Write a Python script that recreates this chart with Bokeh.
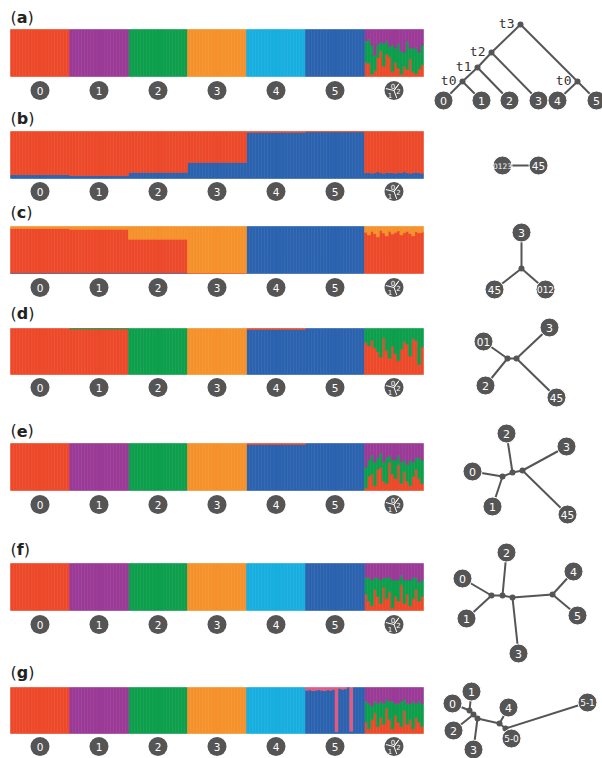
import numpy as np
from bokeh.plotting import figure
from bokeh.models import Range1d, ColumnDataSource
from bokeh.core.properties import value
from bokeh.embed import file_html
from bokeh.resources import INLINE

# ---------------- colours ----------------
RED = "#EC4A2A"
PURPLE = "#9B3B97"
GREEN = "#0E9F4D"
ORANGE = "#F5922C"
CYAN = "#18AEDF"
BLUE = "#2C63AF"
PINK = "#E05A80"
GREY = "#555555"

# ---------------- data ----------------
GROUP_LABELS = ["0", "1", "2", "3", "4", "5"]
N = 20  # individuals per population

A_RED = [0.30, 0.28, 0.05, 0.12, 0.40, 0.55, 0.22, 0.48, 0.42, 0.10, 0.30, 0.18, 0.05, 0.22, 0.15, 0.38, 0.10, 0.06, 0.16, 0.25]
A_GREEN = [0.45, 0.50, 0.62, 0.33, 0.28, 0.18, 0.48, 0.28, 0.22, 0.58, 0.30, 0.52, 0.48, 0.30, 0.60, 0.22, 0.50, 0.55, 0.36, 0.42]

B_BLUE = [0.12, 0.13, 0.11, 0.12, 0.14, 0.12, 0.11, 0.13, 0.12, 0.12, 0.11, 0.13, 0.12, 0.14, 0.12, 0.11, 0.12, 0.13, 0.12, 0.11]

C_ORANGE = [0.12, 0.18, 0.10, 0.15, 0.22, 0.08, 0.14, 0.20, 0.10, 0.16, 0.12, 0.09, 0.18, 0.13, 0.10, 0.15, 0.20, 0.11, 0.14, 0.12]

D_RED = [0.70, 0.62, 0.75, 0.58, 0.50, 0.38, 0.80, 0.52, 0.35, 0.62, 0.45, 0.30, 0.55, 0.72, 0.66, 0.40, 0.78, 0.74, 0.22, 0.60]

E_RED = [0.05, 0.30, 0.35, 0.10, 0.45, 0.50, 0.20, 0.15, 0.60, 0.35, 0.25, 0.55, 0.15, 0.40, 0.20, 0.10, 0.30, 0.45, 0.25, 0.15]
E_GREEN = [0.45, 0.35, 0.40, 0.50, 0.25, 0.30, 0.40, 0.55, 0.15, 0.30, 0.40, 0.20, 0.45, 0.25, 0.35, 0.55, 0.30, 0.25, 0.45, 0.50]

F_RED = [0.35, 0.20, 0.10, 0.45, 0.30, 0.15, 0.50, 0.25, 0.40, 0.05, 0.30, 0.20, 0.55, 0.15, 0.35, 0.10, 0.25, 0.45, 0.20, 0.30]
F_GREEN = [0.35, 0.50, 0.55, 0.25, 0.40, 0.50, 0.20, 0.45, 0.30, 0.60, 0.35, 0.45, 0.20, 0.50, 0.30, 0.55, 0.45, 0.25, 0.40, 0.35]

G_RED = [0.25, 0.10, 0.30, 0.45, 0.15, 0.35, 0.20, 0.55, 0.30, 0.10, 0.40, 0.25, 0.15, 0.50, 0.20, 0.30, 0.10, 0.35, 0.25, 0.15]
G_GREEN = [0.45, 0.55, 0.30, 0.25, 0.50, 0.35, 0.45, 0.20, 0.40, 0.60, 0.25, 0.40, 0.55, 0.25, 0.45, 0.35, 0.60, 0.30, 0.45, 0.50]
G5_PINK = [0.06, 0.05, 0.07, 0.06, 0.05, 0.06, 0.07, 0.05, 0.06, 0.04, 0.96, 0.02, 0.04, 0.03, 0.00, 0.95, 0.00, 0.00, 0.00, 0.00]

PANELS = [
    dict(letter="a", order=[RED, GREEN, PURPLE, ORANGE, CYAN, BLUE],
         groups=[{RED: 1}, {PURPLE: 1}, {GREEN: 1}, {ORANGE: 1}, {CYAN: 1}, {BLUE: 1}],
         admix={RED: A_RED, GREEN: A_GREEN}, rest=PURPLE),
    dict(letter="b", order=[BLUE, RED],
         groups=[{BLUE: 0.08, RED: 0.92}, {BLUE: 0.06, RED: 0.94}, {BLUE: 0.13, RED: 0.87},
                 {BLUE: 0.34, RED: 0.66}, {BLUE: 0.98, RED: 0.02}, {BLUE: 0.99, RED: 0.01}],
         admix={BLUE: B_BLUE}, rest=RED),
    dict(letter="c", order=[BLUE, RED, ORANGE],
         groups=[{BLUE: 0.01, RED: 0.95, ORANGE: 0.04}, {BLUE: 0.01, RED: 0.93, ORANGE: 0.06},
                 {BLUE: 0.01, RED: 0.72, ORANGE: 0.27}, {RED: 0.01, ORANGE: 0.99},
                 {BLUE: 1}, {BLUE: 1}],
         admix={ORANGE: C_ORANGE}, rest=RED),
    dict(letter="d", order=[BLUE, RED, GREEN, ORANGE],
         groups=[{RED: 1}, {RED: 0.99, GREEN: 0.01}, {GREEN: 1}, {ORANGE: 1},
                 {BLUE: 0.98, RED: 0.02}, {BLUE: 1}],
         admix={RED: D_RED}, rest=GREEN),
    dict(letter="e", order=[BLUE, RED, GREEN, PURPLE, ORANGE],
         groups=[{RED: 1}, {PURPLE: 1}, {GREEN: 1}, {ORANGE: 1},
                 {BLUE: 0.98, RED: 0.02}, {BLUE: 1}],
         admix={RED: E_RED, GREEN: E_GREEN}, rest=PURPLE),
    dict(letter="f", order=[RED, GREEN, PURPLE, ORANGE, CYAN, BLUE],
         groups=[{RED: 1}, {PURPLE: 1}, {GREEN: 1}, {ORANGE: 1}, {CYAN: 1}, {BLUE: 1}],
         admix={RED: F_RED, GREEN: F_GREEN}, rest=PURPLE),
    dict(letter="g", order=[RED, GREEN, PURPLE, ORANGE, CYAN, BLUE, PINK],
         groups=[{RED: 1}, {PURPLE: 1}, {GREEN: 1}, {ORANGE: 1}, {CYAN: 1}, {BLUE: 1}],
         admix={RED: G_RED, GREEN: G_GREEN}, rest=PURPLE,
         overrides={5: ({PINK: G5_PINK}, BLUE)}),
]

# trees: node names, positions (page layout), edges
TREES = [
    dict(names=["t3", "t2", "t1", "t0a", "t0b", "0", "1", "2", "3", "4", "5"],
         x=[520, 491, 477, 462, 577, 443, 481, 509, 538, 557, 596],
         y=[24, 52, 67, 81, 81, 100, 100, 100, 100, 100, 100],
         edges=[("t3", "t2"), ("t3", "t0b"), ("t2", "t1"), ("t2", "3"), ("t1", "t0a"), ("t1", "2"),
                ("t0a", "0"), ("t0a", "1"), ("t0b", "4"), ("t0b", "5")],
         leaves=["0", "1", "2", "3", "4", "5"],
         times={"t3": "t3", "t2": "t2", "t1": "t1", "t0a": "t0", "t0b": "t0"}),
    dict(names=["0123", "45"], x=[502, 538], y=[165, 165],
         edges=[("0123", "45")], leaves=["0123", "45"]),
    dict(names=["3", "n", "45", "012"], x=[521, 521, 494, 545], y=[232, 268, 289, 289],
         edges=[("n", "3"), ("n", "45"), ("n", "012")], leaves=["3", "45", "012"]),
    dict(names=["3", "01", "n1", "n2", "2", "45"], x=[549, 483, 507, 516, 485, 556],
         y=[327, 341, 358, 358, 385, 397],
         edges=[("01", "n1"), ("2", "n1"), ("n1", "n2"), ("n2", "3"), ("n2", "45")],
         leaves=["3", "01", "2", "45"]),
    dict(names=["2", "3", "0", "1", "45", "n1", "n2", "n3"],
         x=[506, 566, 472, 492, 567, 502, 512, 522], y=[433, 446, 471, 506, 514, 476, 472, 470],
         edges=[("0", "n1"), ("1", "n1"), ("n1", "n2"), ("n2", "2"), ("n2", "n3"), ("n3", "3"), ("n3", "45")],
         leaves=["2", "3", "0", "1", "45"]),
    dict(names=["2", "0", "4", "1", "5", "3", "n1", "n2", "n3", "n4"],
         x=[506, 462, 573, 466, 577, 518, 491, 502, 512, 552],
         y=[552, 578, 571, 618, 615, 653, 595, 595, 597, 594],
         edges=[("0", "n1"), ("1", "n1"), ("n1", "n2"), ("n2", "2"), ("n2", "n3"), ("n3", "3"),
                ("n3", "n4"), ("n4", "4"), ("n4", "5")],
         leaves=["2", "0", "4", "1", "5", "3"]),
    dict(names=["1", "0", "4", "5-1", "2", "5-0", "3", "n1", "n2", "n3", "n4", "n5"],
         x=[471, 452, 508, 587, 453, 511, 473, 469, 473, 477, 499, 505],
         y=[691, 703, 707, 702, 730, 738, 749, 710, 714, 718, 723, 728],
         edges=[("0", "n1"), ("1", "n1"), ("n1", "n2"), ("n2", "2"), ("n2", "n3"), ("n3", "3"),
                ("n3", "n4"), ("n4", "4"), ("n4", "n5"), ("n5", "5-0"), ("n5", "5-1")],
         leaves=["1", "0", "4", "5-1", "2", "5-0", "3"]),
]

# ---------------- layout (page pixels) ----------------
# letter: (label y, bar top, bar bottom, badge y)
LAYOUT = {"a": (17, 29, 76, 90), "b": (118, 131, 178, 191), "c": (212, 226, 273, 287),
          "d": (313, 328, 374, 387), "e": (430, 443, 490, 504), "f": (549, 563, 610, 624),
          "g": (672, 687, 733, 746)}
BAR_LEFT, BAR_RIGHT = 10, 423
FONT = value("DejaVu Sans")
LETTER_W = {"a": 10.8, "b": 11.5, "c": 9.5, "d": 11.5, "e": 10.8, "f": 7.0, "g": 11.5}

p = figure(width=602, height=758, x_range=Range1d(0, 602), y_range=Range1d(758, 0),
           output_backend="svg", toolbar_location=None, min_border=0,
           x_axis_location=None, y_axis_location=None)
p.grid.visible = False
p.outline_line_color = None
p.background_fill_color = "white"
p.border_fill_color = "white"


def membership(panel):
    order = panel["order"]
    M = np.zeros((7 * N, len(order)))
    for g, comp in enumerate(panel["groups"]):
        for c, v in comp.items():
            M[g * N:(g + 1) * N, order.index(c)] = v

    def fill(g, cols, rest):
        sl = slice(g * N, (g + 1) * N)
        M[sl, :] = 0
        for c, vals in cols.items():
            M[sl, order.index(c)] = vals
        M[sl, order.index(rest)] = 1 - M[sl].sum(axis=1)

    fill(6, panel["admix"], panel["rest"])
    for g, (cols, rest) in panel.get("overrides", {}).items():
        fill(g, cols, rest)
    return M


for panel in PANELS:
    lab_y, top, bot, badge_y = LAYOUT[panel["letter"]]
    sub = p.subplot(x_source=Range1d(0, 7 * N), y_source=Range1d(0, 1),
                    x_target=Range1d(BAR_LEFT, BAR_RIGHT), y_target=Range1d(bot, top))
    M = membership(panel)
    cum = np.cumsum(M, axis=1)
    xs = np.arange(7 * N) + 0.5
    for k, c in enumerate(panel["order"]):
        mask = M[:, k] > 0
        if mask.any():
            sub.vbar(x=xs[mask], width=1.0, bottom=(cum[:, k] - M[:, k])[mask], top=cum[:, k][mask],
                     fill_color=c, line_color=c, line_width=0.6)
    by = -(badge_y - bot) / (bot - top)
    cx = (np.arange(7) + 0.5) * N
    sub.scatter(x=cx, y=[by] * 7, size=19, fill_color=GREY, line_color=None)
    sub.text(x=cx[:6], y=[by] * 6, text=GROUP_LABELS, text_align="center", text_baseline="middle",
             text_font=FONT, text_font_size="10.5px", text_color="white")
    sub.scatter(x=[cx[6]], y=[by], marker="y", size=16, angle=0.35, line_color="white",
                line_width=1, fill_color=None)
    sub.text(x=[cx[6]] * 3, y=[by] * 3, text=["0", "1", "2"], x_offset=[-1, -4, 4.5], y_offset=[-4.5, 4, 0.5],
             text_align="center", text_baseline="middle", text_font=FONT, text_font_size="7px",
             text_color="white")
    # panel letter
    L = panel["letter"]
    p.text(x=[10, 16.2 + LETTER_W[L]], y=[lab_y, lab_y], text=["(", ")"], text_align="left",
           text_baseline="middle", text_font=FONT, text_font_size="16px", text_color="#222222")
    p.text(x=[16.2], y=[lab_y], text=[L], text_align="left", text_baseline="middle",
           text_font=FONT, text_font_size="16px", text_font_style="bold", text_color="#222222")

for tree in TREES:
    pos = {n: (x, y) for n, x, y in zip(tree["names"], tree["x"], tree["y"])}
    e0 = [pos[a] for a, b in tree["edges"]]
    e1 = [pos[b] for a, b in tree["edges"]]
    p.segment(x0=[a[0] for a in e0], y0=[a[1] for a in e0], x1=[b[0] for b in e1], y1=[b[1] for b in e1],
              line_color=GREY, line_width=2)
    internal = [n for n in tree["names"] if n not in tree["leaves"]]
    if internal:
        p.scatter(x=[pos[n][0] for n in internal], y=[pos[n][1] for n in internal], size=6,
                  fill_color=GREY, line_color=None)
    leaves = tree["leaves"]
    sizes = {1: "11px", 2: "10.5px", 3: "9px", 4: "7.5px"}
    src = ColumnDataSource(dict(x=[pos[n][0] for n in leaves], y=[pos[n][1] for n in leaves],
                                t=leaves, fs=[sizes[len(n)] for n in leaves]))
    p.scatter(x="x", y="y", source=src, size=19, fill_color=GREY, line_color="white", line_width=1)
    p.text(x="x", y="y", text="t", source=src, text_align="center", text_baseline="middle",
           text_font=FONT, text_font_size="fs", text_color="white")
    if "times" in tree:
        tn = list(tree["times"].keys())
        p.text(x=[pos[n][0] - 6 for n in tn], y=[pos[n][1] - 1 for n in tn],
               text=[tree["times"][n] for n in tn], text_align="right", text_baseline="middle",
               text_font=value("DejaVu Sans Mono"), text_font_size="13px", text_color="#333333")

open("out.html", "w").write(file_html(p, INLINE))
